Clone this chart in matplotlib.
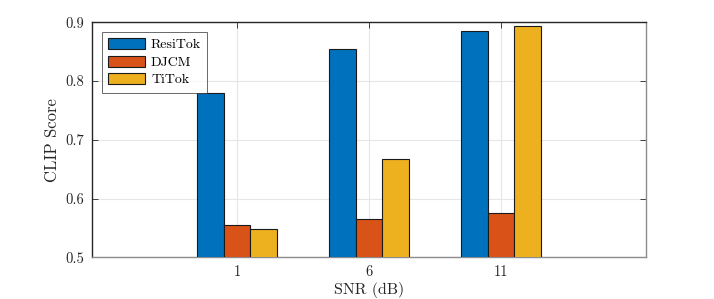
import matplotlib
matplotlib.use("Agg")
import matplotlib.pyplot as plt
import numpy as np

categories = ["1", "6", "11"]
series_names = ["ResiTok", "DJCM", "TiTok"]
resitok = [0.779, 0.855, 0.885]
djcm = [0.555, 0.566, 0.576]
titok = [0.549, 0.667, 0.894]
colors = ["#0072BD", "#D95319", "#EDB120"]
yticks = [0.5, 0.6, 0.7, 0.8, 0.9]

plt.rcParams['font.family'] = ['cmr10', 'DejaVu Serif']
plt.rcParams['axes.formatter.use_mathtext'] = True
plt.rcParams['mathtext.fontset'] = 'cm'

fig = plt.figure(figsize=(7.14, 2.99), dpi=100)
ax = fig.add_axes([0.1293, 0.1395, 0.7751, 0.7859])

x = np.arange(len(categories))
w = 0.2
for i, (vals, name) in enumerate(zip([resitok, djcm, titok], series_names)):
    ax.bar(x + (i - 1) * w, vals, width=w, color=colors[i], edgecolor="#1a1a1a",
           linewidth=0.8, label=name, zorder=3)

ax.set_xlim(-1.096, 3.096)
ax.set_ylim(0.5, 0.9)
ax.set_xticks(x)
ax.set_xticklabels(categories)
ax.set_yticks(yticks)
ax.set_yticklabels([f"{v:.1f}" for v in yticks])
ax.grid(True, color="#e6e6e6", linewidth=0.8, zorder=0)
ax.set_axisbelow(True)
ax.tick_params(direction="in", length=4, width=0.6, top=True, right=True,
               labelsize=10.5, colors="#262626", pad=6)
for s in ["left", "top"]:
    ax.spines[s].set_color("#262626")
for s in ["bottom", "right"]:
    ax.spines[s].set_color("#8c8c8c")
for s in ax.spines.values():
    s.set_linewidth(1.0)

ax.set_xlabel("SNR (dB)", fontsize=11.5, color="#262626", labelpad=2)
ax.set_ylabel("CLIP Score", fontsize=12, color="#262626", labelpad=4)

leg = ax.legend(loc="upper left", bbox_to_anchor=(0.017, 0.96), fontsize=10,
                frameon=True, fancybox=False, edgecolor="#262626",
                handlelength=2.7, handleheight=0.86, handletextpad=0.4,
                labelspacing=0.3, borderpad=0.45, borderaxespad=0.0)
leg.get_frame().set_linewidth(0.6)

fig.savefig("out.png", dpi=100)
